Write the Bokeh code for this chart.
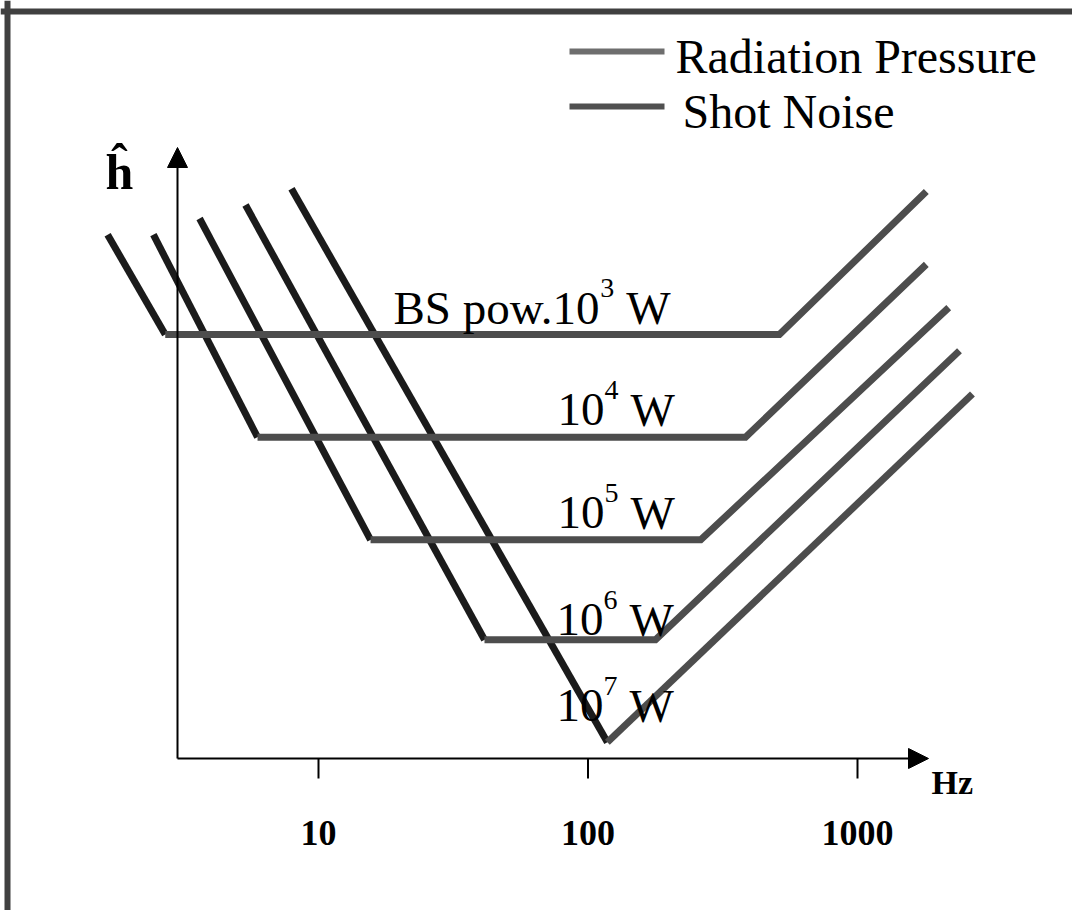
from bokeh.plotting import figure
from bokeh.models import Range1d, Arrow, NormalHead, Span
from bokeh.core.properties import value
from bokeh.embed import file_html
from bokeh.resources import INLINE

# ---------------- data (schematic sensitivity curves) ----------------
power_exp = ["3", "4", "5", "6", "7"]            # BS power 10^n W
label_main = ["BS pow.10", "10", "10", "10", "10"]
# radiation-pressure branch: start point -> knee (frequency in Hz, log10 h arbitrary)
rp_start_f = [1.65, 2.44, 3.62, 5.36, 7.94]
rp_start_h = [1.94, 1.94, 2.00, 2.05, 2.11]
knee_f = [2.70, 5.94, 15.6, 41.3, 118.0]
knee_h = [1.57, 1.19, 0.81, 0.44, 0.06]
# shot-noise branch: knee -> end of flat part -> rising end
flat_end_f = [513.0, 384.0, 262.0, 178.0, 118.0]
sn_end_f = [1800.0, 1800.0, 2180.0, 2390.0, 2670.0]
sn_end_h = [2.10, 1.83, 1.67, 1.51, 1.35]

tick_f = [10, 100, 1000]
tick_labels = ["10", "100", "1000"]
legend_labels = ["Radiation Pressure", "Shot Noise"]
legend_colors = ["#6e6e6e", "#505050"]

RP_COLOR = "#1b1b1b"
SN_COLOR = "#4d4d4d"
FONT = value("Liberation Serif")

# ---------------- layout helpers (page pixels -> data) ----------------
W, H = 1072, 910
DEC = 269.5
TS = 12  # text baseline correction (px)


def fx(px):
    return 10 ** (1 + (px - 318) / DEC)


def hy(py):
    return (758 - py) / 270.0


def ty(py):
    return hy(py - TS)


p = figure(width=W, height=H, x_axis_type="log",
           x_range=Range1d(fx(0), fx(W)), y_range=Range1d(hy(H), hy(0)),
           x_axis_location=None, y_axis_location=None,
           output_backend="svg", toolbar_location=None, min_border=0)
p.xgrid.visible = False
p.ygrid.visible = False
p.outline_line_color = None
p.background_fill_color = "white"
p.border_fill_color = "white"

# outer frame (top + left edges visible)
p.add_layout(Span(location=hy(11), dimension="width", line_color="#404040", line_width=6))
p.add_layout(Span(location=fx(7), dimension="height", line_color="#404040", line_width=6))

# curves
p.multi_line(xs=[[a, b] for a, b in zip(rp_start_f, knee_f)],
             ys=[[a, b] for a, b in zip(rp_start_h, knee_h)],
             line_color=RP_COLOR, line_width=7, line_cap="butt")
p.multi_line(xs=[[a, b, c] for a, b, c in zip(knee_f, flat_end_f, sn_end_f)],
             ys=[[a, a, c] for a, c in zip(knee_h, sn_end_h)],
             line_color=SN_COLOR, line_width=7, line_cap="butt", line_join="miter")

# axes with arrows
x0 = fx(177)
p.add_layout(Arrow(x_start=x0, y_start=0, x_end=x0, y_end=hy(147), line_width=2,
                   end=NormalHead(size=20, fill_color="black", line_color="black")))
p.add_layout(Arrow(x_start=x0, y_start=0, x_end=fx(928), y_end=0, line_width=2,
                   end=NormalHead(size=20, fill_color="black", line_color="black")))
p.segment(x0=tick_f, y0=[0] * 3, x1=tick_f, y1=[hy(778)] * 3, line_color="black", line_width=2)
p.text(x=tick_f, y=[ty(844)] * 3, text=tick_labels, text_font=FONT, text_font_style="bold",
       text_font_size="36px", text_align="center", text_baseline="alphabetic", text_color="black")
p.text(x=[fx(931)], y=[ty(794)], text=["Hz"], text_font=FONT, text_font_style="bold",
       text_font_size="34px", text_align="left", text_baseline="alphabetic", text_color="black")
p.text(x=[fx(105)], y=[ty(183)], text=["ĥ"], text_font=FONT, text_font_style="bold",
       text_font_size="50px", text_align="left", text_baseline="alphabetic", text_color="black")

# power labels with superscripts
MAIN_PX, SUP_PX = 47, 28
lab_x = [393, 557, 557, 556, 556]
lab_y = [319, 421, 524, 631, 717]
main_em = {"BS pow.10": 4.40, "10": 1.0}
mx, my, sx, sy, wx, wy = [], [], [], [], [], []
for t, X, Y in zip(label_main, lab_x, lab_y):
    w = main_em[t] * MAIN_PX
    mx.append(fx(X)); my.append(ty(Y))
    sx.append(fx(X + w)); sy.append(ty(Y - 20))
    wx.append(fx(X + w + 0.5 * SUP_PX + 12)); wy.append(ty(Y))
p.text(x=mx, y=my, text=label_main, text_font=FONT, text_font_size=f"{MAIN_PX}px",
       text_align="left", text_baseline="alphabetic", text_color="black")
p.text(x=sx, y=sy, text=power_exp, text_font=FONT, text_font_size=f"{SUP_PX}px",
       text_align="left", text_baseline="alphabetic", text_color="black")
p.text(x=wx, y=wy, text=["W"] * 5, text_font=FONT, text_font_size=f"{MAIN_PX}px",
       text_align="left", text_baseline="alphabetic", text_color="black")

# legend (drawn manually)
leg_y = [51, 106]
leg_tx = [675, 682]
p.segment(x0=[fx(569)] * 2, y0=[hy(v) for v in leg_y], x1=[fx(664)] * 2, y1=[hy(v) for v in leg_y],
          line_color=legend_colors, line_width=6, line_cap="butt")
p.text(x=[fx(v) for v in leg_tx], y=[ty(v + 17) for v in leg_y], text=legend_labels,
       text_font=FONT, text_font_size="48px", text_align="left", text_baseline="alphabetic",
       text_color="black")

open("out.html", "w").write(file_html(p, INLINE))
